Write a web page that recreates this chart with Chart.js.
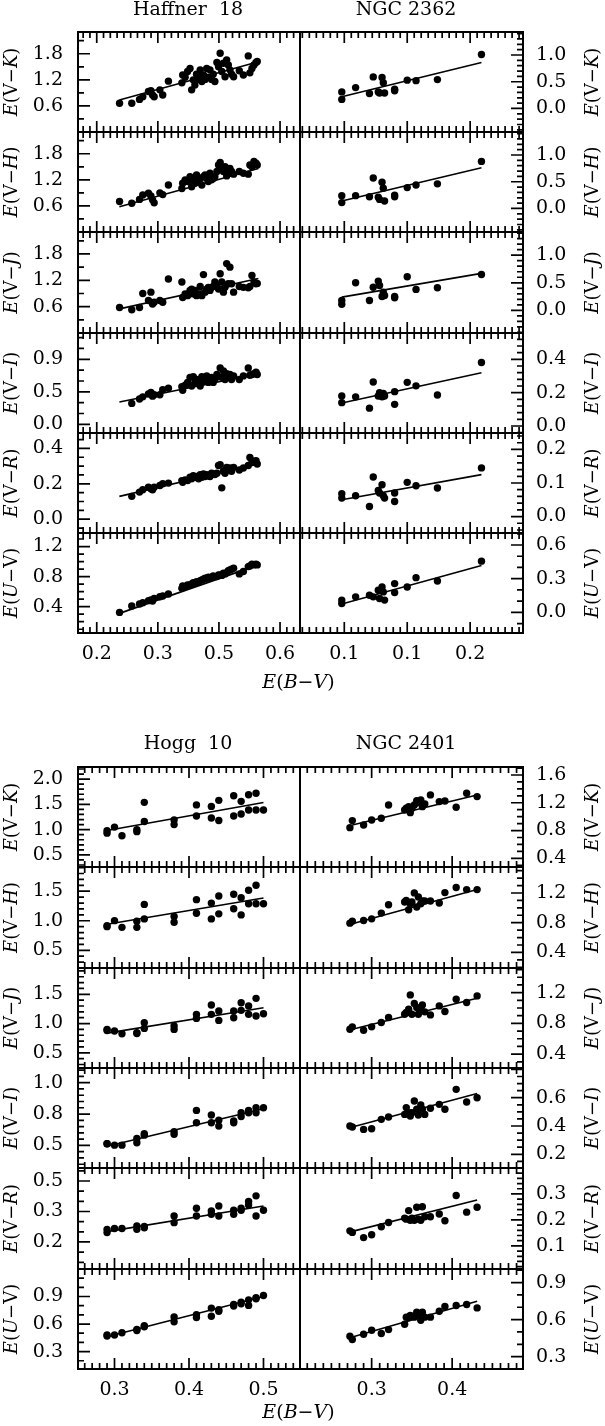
<!DOCTYPE html>
<html>
<head>
<meta charset="utf-8">
<script src="https://cdn.jsdelivr.net/npm/chart.js@4.4.1/dist/chart.umd.min.js"></script>
<style>
  body { margin: 0; background: #fff; width: 605px; height: 1426px; position: relative; overflow: hidden; }
  canvas { position: absolute; left: 0; }
</style>
</head>
<body>
<script>
// ---------- Haffner 18 ----------
const hafEBV = [0.256,0.286,0.305,0.313,0.327,0.333,0.337,0.341,0.355,0.362,0.376,0.409,0.411,0.417,0.423,0.429,0.433,0.437,0.441,0.445,0.450,0.454,0.458,0.462,0.466,0.470,0.474,0.478,0.482,0.486,0.490,0.495,0.499,0.503,0.507,0.511,0.515,0.519,0.523,0.527,0.531,0.536,0.550,0.560,0.572,0.576,0.581,0.586,0.591,0.594];
const hafVK = [0.66,0.66,0.75,0.81,0.93,0.95,0.85,0.81,0.97,0.85,1.17,1.13,1.31,1.26,1.39,1.46,0.97,1.20,1.08,1.33,1.21,1.43,1.16,1.31,1.21,1.46,1.26,1.43,1.21,1.33,1.16,1.60,1.50,1.81,1.39,1.58,1.27,1.66,1.54,1.43,1.33,1.27,1.41,1.31,1.75,1.36,1.46,1.54,1.60,1.62];
const hafVH = [0.70,0.66,0.75,0.85,0.89,0.83,0.74,0.67,0.90,0.86,1.08,1.00,1.12,1.20,1.16,1.27,1.04,1.20,1.12,1.31,1.16,1.23,1.08,1.27,1.31,1.23,1.16,1.35,1.20,1.23,1.27,1.39,1.54,1.60,1.46,1.39,1.50,1.29,1.35,1.46,1.39,1.33,1.39,1.35,1.33,1.54,1.50,1.62,1.58,1.54];
const hafVJ = [0.58,0.53,0.58,0.90,0.74,0.93,0.66,0.70,0.74,0.70,1.23,1.16,0.81,0.89,0.85,0.97,1.00,0.89,0.97,0.85,0.89,1.06,0.85,1.33,0.93,1.00,1.04,0.97,1.04,1.06,1.16,1.10,1.00,1.35,1.16,0.93,1.04,1.58,1.12,1.50,1.12,0.93,1.06,1.04,1.03,1.06,1.31,1.16,1.12,1.13];
const hafVI = [null,0.29,0.35,0.38,0.42,0.44,0.39,0.41,0.41,0.48,0.50,0.52,0.47,0.54,0.58,0.65,0.53,0.66,0.58,0.62,0.59,0.53,0.66,0.59,0.62,0.67,0.58,0.61,0.65,0.58,0.62,0.69,0.66,0.78,0.65,0.74,0.62,0.70,0.66,0.69,0.62,0.67,0.62,0.67,0.78,0.68,0.69,0.70,0.72,0.69];
const hafVR = [null,0.129,0.153,0.166,0.181,0.172,0.166,0.181,0.19,0.2,0.204,0.218,0.209,0.222,0.218,0.237,0.228,0.246,0.237,0.241,0.228,0.252,0.237,0.256,0.241,0.252,0.246,0.241,0.26,0.256,0.252,0.26,0.303,0.308,0.177,0.271,0.26,0.293,0.278,0.289,0.271,0.293,0.278,0.289,0.303,0.349,0.331,0.321,0.331,0.312];
const hafUV = [0.324,0.409,0.436,0.453,0.48,0.489,0.476,0.511,0.533,0.542,0.569,0.644,0.676,0.667,0.689,0.689,0.702,0.72,0.711,0.733,0.733,0.747,0.756,0.764,0.778,0.778,0.791,0.78,0.791,0.809,0.80,0.80,0.822,0.822,0.816,0.844,0.836,0.853,0.88,0.889,0.898,0.911,0.836,0.867,0.933,0.942,0.964,0.956,0.964,0.956];
const hafFitX = [0.2556, 0.5968];
const hafFits = [[0.736,1.618],[0.58,1.46],[0.55,1.24],[0.31,0.70],[0.129,0.312],[0.311,0.956]];
const hafXTicks = [0.2, 0.35, 0.5, 0.65];
const hafXLabels = ['0.2','0.3','0.5','0.6'];
const hafYTicks = [[0.6,1.2,1.8],[0.6,1.2,1.8],[0.6,1.2,1.8],[0,0.45,0.9],[0,0.2,0.4],[0.4,0.8,1.2]];
const hafYLabels = [['0.6','1.2','1.8'],['0.6','1.2','1.8'],['0.6','1.2','1.8'],['0.0','0.5','0.9'],['0.0','0.2','0.4'],['0.4','0.8','1.2']];

// ---------- NGC 2362 ----------
const n62EBV = [0.098,0.098,0.109,0.120,0.123,0.127,0.128,0.130,0.131,0.132,0.140,0.140,0.150,0.157,0.174,0.209];
const n62VK = [0.31,0.17,0.39,0.28,0.59,0.31,0.29,0.58,0.48,0.29,0.36,0.33,0.53,0.52,0.54,1.01];
const n62VH = [0.24,0.11,0.24,0.22,0.57,0.21,0.17,0.49,0.38,0.14,0.25,0.22,0.39,0.44,0.46,0.88];
const n62VJ = [0.18,0.11,0.50,0.18,0.42,0.53,0.45,0.25,0.33,0.27,0.23,0.25,0.61,0.38,0.41,0.65];
const n62VI = [0.18,0.14,0.175,0.107,0.264,0.18,0.20,0.175,0.196,0.18,0.206,0.13,0.262,0.241,0.186,0.381];
const n62VR = [0.068,0.055,0.062,0.03,0.118,0.078,0.07,0.095,0.062,0.055,0.07,0.045,0.102,0.092,0.085,0.145];
const n62UV = [0.109,0.079,0.138,0.153,0.138,0.197,0.124,0.226,0.182,0.109,0.256,0.176,0.226,0.309,0.279,0.456];
const n62FitX = [0.098, 0.209];
const n62Fits = [[0.22,0.86],[0.14,0.76],[0.24,0.67],[0.138,0.32],[0.05,0.125],[0.074,0.418]];
const n62XTicks = [0.1, 0.15, 0.2];
const n62XLabels = ['0.1','0.1','0.2'];
const n62YTicks = [[0,0.5,1],[0,0.5,1],[0,0.5,1],[0,0.2,0.4],[0,0.1,0.2],[0,0.3,0.6]];
const n62YLabels = [['0.0','0.5','1.0'],['0.0','0.5','1.0'],['0.0','0.5','1.0'],['0.0','0.2','0.4'],['0.0','0.1','0.2'],['0.0','0.3','0.6']];

// ---------- Hogg 10 ----------
const hogEBV = [0.29,0.29,0.30,0.31,0.33,0.33,0.34,0.34,0.38,0.38,0.41,0.41,0.43,0.43,0.44,0.44,0.46,0.46,0.47,0.47,0.48,0.48,0.49,0.49,0.50];
const hogVK = [0.98,0.93,1.05,0.88,1.0,0.96,1.54,1.16,1.19,1.10,1.49,1.27,1.46,1.23,1.58,1.18,1.67,1.27,1.56,1.31,1.69,1.39,1.72,1.39,1.39];
const hogVH = [0.917,0.90,1.002,0.888,0.991,0.888,1.277,1.031,1.071,0.974,1.357,1.128,1.299,1.031,1.419,1.117,1.448,1.202,1.391,1.099,1.517,1.288,1.602,1.288,1.288];
const hogVJ = [0.90,0.88,0.872,0.826,0.843,0.83,1.014,0.917,0.957,0.90,1.157,1.088,1.317,1.157,1.214,1.054,1.214,1.10,1.357,1.226,1.30,1.157,1.431,1.128,1.168];
const hogVI = [0.513,0.513,0.502,0.502,0.521,0.556,0.582,0.593,0.588,0.609,0.779,0.681,0.742,0.681,0.70,0.654,0.694,0.681,0.76,0.73,0.76,0.779,0.80,0.76,0.80];
const hogVR = [0.262,0.246,0.266,0.266,0.279,0.262,0.276,0.27,0.328,0.295,0.366,0.328,0.353,0.336,0.377,0.328,0.356,0.336,0.366,0.356,0.399,0.382,0.427,0.328,0.356];
const hogUV = [0.48,0.47,0.48,0.505,0.541,0.53,0.581,0.57,0.678,0.624,0.703,0.67,0.774,0.685,0.757,0.74,0.796,0.814,0.839,0.82,0.864,0.803,0.875,0.886,0.911];
const hogFitX = [0.29, 0.50];
const hogFits = [[0.983,1.538],[0.94,1.385],[0.836,1.271],[0.494,0.792],[0.251,0.377],[0.462,0.90]];
const hogXTicks = [0.3, 0.4, 0.5];
const hogXLabels = ['0.3','0.4','0.5'];
const hogYTicks = [[0.5,1,1.5,2],[0.5,1,1.5],[0.5,1,1.5],[0.5,0.75,1],[0.2,0.35,0.5],[0.3,0.6,0.9]];
const hogYLabels = [['0.5','1.0','1.5','2.0'],['0.5','1.0','1.5'],['0.5','1.0','1.5'],['0.5','0.8','1.0'],['0.2','0.3','0.5'],['0.3','0.6','0.9']];

// ---------- NGC 2401 ----------
const n01EBV = [0.273,0.276,0.290,0.300,0.312,0.321,0.341,0.343,0.346,0.348,0.350,0.353,0.356,0.358,0.361,0.363,0.366,0.373,0.384,0.391,0.405,0.418,0.431];
const n01VK = [0.842,0.943,0.88,0.952,0.976,1.168,1.096,1.12,1.144,1.058,1.12,1.168,1.231,1.202,1.241,1.144,1.183,1.313,1.217,1.226,1.135,1.337,1.289];
const n01VH = [0.794,0.821,0.83,0.852,0.929,1.042,1.078,1.101,0.974,1.056,1.078,1.201,1.011,1.146,1.056,1.092,1.092,1.092,1.065,1.205,1.273,1.246,1.246];
const n01VJ = [0.724,0.755,0.711,0.755,0.811,0.876,0.919,0.941,0.984,1.17,0.919,1.058,1.006,0.919,0.984,1.04,0.95,0.91,1.027,0.954,1.114,1.071,1.157];
const n01VI = [0.40,0.393,0.376,0.381,0.447,0.464,0.482,0.53,0.494,0.471,0.494,0.577,0.518,0.478,0.549,0.518,0.482,0.525,0.553,0.518,0.659,0.57,0.60];
const n01VR = [0.158,0.152,0.132,0.143,0.174,0.19,0.207,0.203,0.236,0.199,0.207,0.199,0.249,0.203,0.199,0.251,0.212,0.212,0.223,0.197,0.294,0.23,0.249];
const n01UV = [0.466,0.439,0.482,0.514,0.487,0.519,0.562,0.62,0.615,0.634,0.626,0.62,0.66,0.642,0.594,0.66,0.62,0.62,0.668,0.706,0.714,0.722,0.695];
const n01FitX = [0.276, 0.431];
const n01Fits = [[0.88,1.313],[0.785,1.246],[0.724,1.126],[0.393,0.629],[0.156,0.277],[0.46,0.748]];
const n01XTicks = [0.3, 0.4];
const n01XLabels = ['0.3','0.4'];
const n01YTicks = [[0.4,0.8,1.2,1.6],[0.4,0.8,1.2],[0.4,0.8,1.2],[0.2,0.4,0.6],[0.1,0.2,0.3],[0.3,0.6,0.9]];
const n01YLabels = [['0.4','0.8','1.2','1.6'],['0.4','0.8','1.2'],['0.4','0.8','1.2'],['0.2','0.4','0.6'],['0.1','0.2','0.3'],['0.3','0.6','0.9']];

// colour names of the six rows
const rowColours = [['V','K'],['V','H'],['V','J'],['V','I'],['V','R'],['U','V']];

// ---------- layout ----------
const W = 605, LEFT = 78, MID = 300, RIGHT = 523;
const FONT = "'DejaVu Serif', serif";
Chart.defaults.font.family = FONT;
Chart.defaults.font.size = 19;
Chart.defaults.color = '#000';

const clusters = [
  { name: 'Haffner  18', nameX: 188, g: 0, side: 'left', xs: hafEBV, ys: [hafVK,hafVH,hafVJ,hafVI,hafVR,hafUV],
    fitX: hafFitX, fits: hafFits, xr: [0.154, 0.699], xt: hafXTicks, xl: hafXLabels, xsub: 9,
    yt: hafYTicks, yl: hafYLabels,
    yr: [[0,2.3],[0,2.3],[0,2.3],[-0.12,1.264],[-0.078,0.487],[0.05,1.38]], ysub: [2,2,2,3,4,4] },
  { name: 'NGC 2362', nameX: 406, g: 0, side: 'right', xs: n62EBV, ys: [n62VK,n62VH,n62VJ,n62VI,n62VR,n62UV],
    fitX: n62FitX, fits: n62Fits, xr: [0.0648, 0.242], xt: n62XTicks, xl: n62XLabels, xsub: 9,
    yt: n62YTicks, yl: n62YLabels,
    yr: [[-0.44,1.43],[-0.44,1.43],[-0.41,1.42],[-0.042,0.558],[-0.049,0.249],[-0.184,0.707]], ysub: [5,5,5,5,5,3] },
  { name: 'Hogg  10', nameX: 188, g: 1, side: 'left', xs: hogEBV, ys: [hogVK,hogVH,hogVJ,hogVI,hogVR,hogUV],
    fitX: hogFitX, fits: hogFits, xr: [0.251, 0.549], xt: hogXTicks, xl: hogXLabels, xsub: 10,
    yt: hogYTicks, yl: hogYLabels,
    yr: [[0.26,2.24],[0.2,1.91],[0.24,1.95],[0.32,1.117],[0.067,0.564],[0.11,1.2]], ysub: [5,5,5,5,3,3] },
  { name: 'NGC 2401', nameX: 406, g: 1, side: 'right', xs: n01EBV, ys: [n01VK,n01VH,n01VJ,n01VI,n01VR,n01UV],
    fitX: n01FitX, fits: n01Fits, xr: [0.211, 0.488], xt: n01XTicks, xl: n01XLabels, xsub: 10,
    yt: n01YTicks, yl: n01YLabels,
    yr: [[0.275,1.715],[0.19,1.55],[0.22,1.52],[0.103,0.81],[0.011,0.40],[0.2,1.01]], ysub: [4,4,4,4,5,3] }
];
const groupTop = [32, 767];
const groupRowH = [100.17, 100.35];
const nameY = [10, 744];
const xTitleY = [683, 1413];

function minorTicks(major, nsub, min, max) {
  const step = (major[1] - major[0]) / nsub;
  const out = [];
  const k0 = Math.ceil((min - major[0]) / step - 1e-6);
  const k1 = Math.floor((max - major[0]) / step + 1e-6);
  for (let k = k0; k <= k1; k++) out.push([major[0] + k * step, ((k % nsub) + nsub) % nsub === 0]);
  return out;
}

function drawParts(ctx, parts, x, y, rot, size) {
  ctx.save();
  ctx.translate(x, y);
  ctx.rotate(rot);
  ctx.textBaseline = 'middle';
  ctx.textAlign = 'left';
  const fontOf = it => (it ? 'italic ' : '') + size + 'px ' + FONT;
  let total = 0;
  parts.forEach(([t, it]) => { ctx.font = fontOf(it); total += ctx.measureText(t).width; });
  let cx = -total / 2;
  parts.forEach(([t, it]) => { ctx.font = fontOf(it); ctx.fillText(t, cx, 0); cx += ctx.measureText(t).width; });
  ctx.restore();
}

function colourParts(a, b) {
  return [['E',1],['(',0],[a, a === 'V' ? 0 : 1],['\u2212',0],[b, b === 'V' ? 0 : 1],[')',0]];
}

// frame, inward ticks and titles
const framePlugin = {
  id: 'frame',
  afterDatasetsDraw(chart, args, o) {
    const { ctx, chartArea: a } = chart;
    const xs = chart.scales.x, ys = chart.scales.y;
    ctx.save();
    ctx.strokeStyle = '#000';
    ctx.lineWidth = 1.7;
    ctx.beginPath();
    minorTicks(o.xt, o.xsub, xs.min, xs.max).forEach(([v, major]) => {
      const px = xs.getPixelForValue(v), len = major ? 11 : 6;
      ctx.moveTo(px, a.bottom); ctx.lineTo(px, a.bottom - len);
      ctx.moveTo(px, a.top); ctx.lineTo(px, a.top + len);
    });
    minorTicks(o.yt, o.ysub, ys.min, ys.max).forEach(([v, major]) => {
      const py = ys.getPixelForValue(v), len = major ? 12 : 6;
      if (o.side === 'left') { ctx.moveTo(a.left, py); ctx.lineTo(a.left + len, py); }
      else { ctx.moveTo(a.right, py); ctx.lineTo(a.right - len, py); }
    });
    ctx.stroke();
    ctx.lineWidth = 2;
    ctx.strokeRect(a.left, a.top, a.right - a.left, a.bottom - a.top);
    ctx.fillStyle = '#000';
    const midY = (a.top + a.bottom) / 2;
    drawParts(ctx, colourParts(o.colours[0], o.colours[1]), o.side === 'left' ? 12 : 593, midY, -Math.PI / 2, 18);
    if (o.name) {
      ctx.font = '19px ' + FONT;
      ctx.textAlign = 'center';
      ctx.textBaseline = 'middle';
      ctx.fillText(o.name, o.nameX, o.nameY);
    }
    if (o.xTitle) {
      drawParts(ctx, [['E',1],['(',0],['B',1],['\u2212',0],['V',1],[')',0]], 298.5, o.xTitleY, 0, 19);
    }
    ctx.restore();
  }
};

const MT = 40, MB = 62, XH = 30;

clusters.forEach(c => {
  const top0 = groupTop[c.g], rh = groupRowH[c.g];
  for (let r = 0; r < 6; r++) {
    const pTop = Math.round(top0 + r * rh);
    const pBot = Math.round(top0 + (r + 1) * rh);
    const last = r === 5;
    const cTop = pTop - MT;
    const cv = document.createElement('canvas');
    cv.width = W;
    cv.height = (pBot - pTop) + MT + MB;
    cv.style.top = cTop + 'px';
    document.body.appendChild(cv);
    const left = c.side === 'left';
    const pts = c.xs.map((x, i) => ({ x, y: c.ys[r][i] })).filter(d => d.y !== null);
    const yt = c.yt[r], yl = c.yl[r];
    new Chart(cv, {
      type: 'scatter',
      data: {
        datasets: [
          { data: pts, pointRadius: 3.7, pointHoverRadius: 3.7, backgroundColor: '#000', borderWidth: 0 },
          { type: 'line', data: [{ x: c.fitX[0], y: c.fits[r][0] }, { x: c.fitX[1], y: c.fits[r][1] }],
            borderColor: '#000', borderWidth: 1.6, pointRadius: 0, fill: false }
        ]
      },
      options: {
        responsive: false,
        animation: false,
        events: [],
        layout: { padding: { top: MT, bottom: last ? MB - XH : MB, left: left ? 0 : MID, right: left ? W - MID : 0 } },
        scales: {
          x: {
            type: 'linear', min: c.xr[0], max: c.xr[1], display: last,
            grid: { display: false, drawTicks: false }, border: { display: false },
            afterBuildTicks: s => { s.ticks = c.xt.map(v => ({ value: v })); },
            afterFit: s => { if (last) s.height = XH; },
            ticks: { autoSkip: false, maxRotation: 0, padding: 10, callback: (v, i) => c.xl[i] }
          },
          y: {
            type: 'linear', position: c.side, min: c.yr[r][0], max: c.yr[r][1],
            grid: { display: false, drawTicks: false }, border: { display: false },
            afterBuildTicks: s => { s.ticks = yt.map(v => ({ value: v })); },
            afterFit: s => { s.width = left ? LEFT : W - RIGHT; },
            ticks: { autoSkip: false, padding: left ? 15 : 13, callback: (v, i) => yl[i] }
          }
        },
        plugins: {
          legend: { display: false },
          tooltip: { enabled: false },
          frame: {
            side: c.side, xt: c.xt, xsub: c.xsub, yt: yt, ysub: c.ysub[r], colours: rowColours[r],
            name: r === 0 ? c.name : null, nameX: c.nameX, nameY: nameY[c.g] - cTop,
            xTitle: last && left, xTitleY: xTitleY[c.g] - cTop
          }
        }
      },
      plugins: [framePlugin]
    });
  }
});
</script>
</body>
</html>
